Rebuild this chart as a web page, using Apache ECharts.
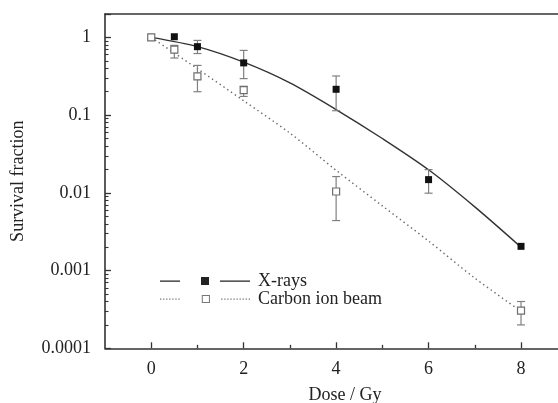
<!DOCTYPE html>
<html>
<head>
<meta charset="utf-8">
<script src="https://cdn.jsdelivr.net/npm/echarts@6/dist/echarts.min.js"></script>
<style>
html,body{margin:0;padding:0;background:#fff;}
#c{width:558px;height:403px;}
</style>
</head>
<body>
<div id="c"></div>
<script>
// ---- data ----
const xrayDose = [0.5, 1, 2, 4, 6, 8];
const xraySF   = [1.02, 0.76, 0.47, 0.215, 0.0148, 0.00205];
const xrayErrDose = [1, 2, 4, 6];
const xrayErrLo   = [0.62, 0.295, 0.114, 0.0099];
const xrayErrHi   = [0.915, 0.68, 0.319, 0.0199];

const carbonDose = [0, 0.5, 1, 2, 4, 8];
const carbonSF   = [1.0, 0.695, 0.315, 0.21, 0.0104, 0.000305];
const carbonErrDose = [0.5, 1, 2, 4, 8];
const carbonErrLo   = [0.543, 0.20, 0.174, 0.0044, 0.0002];
const carbonErrHi   = [0.79, 0.436, 0.235, 0.0162, 0.0004];

const xrayFitDose = [0, 1, 2, 3, 4, 5, 6, 7, 8];
const xrayFitSF   = [1.0, 0.76, 0.48, 0.26, 0.118, 0.05, 0.0198, 0.0066, 0.0020];
const carbonFitDose = [0, 1, 2, 3, 4, 5, 6, 7, 8];
const carbonFitSF   = [1.0, 0.395, 0.153, 0.0587, 0.0195, 0.0068, 0.0024, 0.0008, 0.0003];

const xTickValues = [0, 2, 4, 6, 8];
const xMinorTickValues = [1, 3, 5, 7];
const yTickLabels = ['0.0001', '0.001', '0.01', '0.1', '1'];
const yMinorTickValues = [];
[0.0001, 0.001, 0.01, 0.1].forEach(d => { for (let k = 2; k <= 9; k++) yMinorTickValues.push(+(d * k).toPrecision(3)); });

const seriesNames = ['X-rays', 'Carbon ion beam'];
const xTitle = 'Dose / Gy';
const yTitle = 'Survival fraction';

// ---- build ----
const zip = (a, b) => a.map((v, i) => [v, b[i]]);
const zip3 = (a, b, c) => a.map((v, i) => [v, b[i], c[i]]);

const FONT = 'Liberation Serif';
const AX = '#333';

function errRender(params, api) {
  const x = api.value(0), lo = api.value(1), hi = api.value(2);
  const a = api.coord([x, hi]), b = api.coord([x, lo]);
  const hw = 4;
  const st = { stroke: '#808080', lineWidth: 1.2 };
  return {
    type: 'group',
    children: [
      { type: 'line', shape: { x1: a[0], y1: a[1], x2: b[0], y2: b[1] }, style: st },
      { type: 'line', shape: { x1: a[0] - hw, y1: a[1], x2: a[0] + hw, y2: a[1] }, style: st },
      { type: 'line', shape: { x1: b[0] - hw, y1: b[1], x2: b[0] + hw, y2: b[1] }, style: st }
    ]
  };
}

// legend glyphs (line - marker - line)
const iconX = 'path://M0 3.5h20v1.2h-20zM41 0h8v8h-8zM60 3.5h30v1.2h-30z';
let dots = '';
for (let x = 0; x <= 18; x += 3) dots += 'M' + x + ' 3.5h1.3v1.2h-1.3z';
for (let x = 60; x <= 88.7; x += 3) dots += 'M' + x + ' 3.5h1.3v1.2h-1.3z';
const iconC = 'path://' + dots + 'M41 0h8v8h-8zM42 1v6h6v-6z';

const chart = echarts.init(document.getElementById('c'), null, { renderer: 'canvas' });
chart.setOption({
  animation: false,
  backgroundColor: '#fff',
  grid: { left: 105, right: 0, top: 14, bottom: 54.7, containLabel: false, outerBoundsMode: 'none' },
  legend: {
    left: 160, top: 272, orient: 'vertical', padding: 0,
    itemWidth: 90, itemHeight: 8, itemGap: 0,
    symbolKeepAspect: false,
    textStyle: { fontFamily: FONT, fontSize: 18, color: '#222', lineHeight: 18, padding: [0, 0, 0, 3] },
    data: [
      { name: seriesNames[0], icon: iconX, itemStyle: { color: '#222', borderWidth: 0 } },
      { name: seriesNames[1], icon: iconC, itemStyle: { color: '#777', borderWidth: 0 } }
    ]
  },
  xAxis: [
    {
      type: 'value', min: -1, max: 8.8, interval: 1, position: 'bottom',
      name: xTitle, nameLocation: 'middle', nameGap: 38,
      nameTextStyle: { fontFamily: FONT, fontSize: 18, color: '#222', padding: [0, 0, 0, 27] },
      axisLine: { show: true, onZero: false, lineStyle: { color: AX, width: 1.6 } },
      axisTick: { show: true, inside: true, length: 6, customValues: xTickValues, lineStyle: { color: AX, width: 1.3 } },
      axisLabel: { customValues: xTickValues, margin: 12, fontFamily: FONT, fontSize: 18, color: '#222' },
      splitLine: { show: false }
    },
    {
      type: 'value', min: -1, max: 8.8, interval: 1, position: 'bottom',
      axisLine: { show: false, onZero: false },
      axisTick: { show: true, inside: true, length: 3.5, customValues: xMinorTickValues, lineStyle: { color: AX, width: 1.3 } },
      axisLabel: { show: false },
      splitLine: { show: false }
    },
    {
      type: 'value', min: -1, max: 8.8, position: 'top',
      axisLine: { show: true, onZero: false, lineStyle: { color: AX, width: 1.6 } },
      axisTick: { show: false }, axisLabel: { show: false }, splitLine: { show: false }
    }
  ],
  yAxis: [
    {
      type: 'log', logBase: 10, min: 0.0001, max: 2, position: 'left',
      name: yTitle, nameLocation: 'middle', nameGap: 78, nameRotate: 90,
      nameTextStyle: { fontFamily: FONT, fontSize: 18, color: '#222' },
      axisLine: { show: true, onZero: false, lineStyle: { color: AX, width: 1.6 } },
      axisTick: { show: true, inside: true, length: 6, lineStyle: { color: AX, width: 1.3 } },
      axisLabel: {
        margin: 14, fontFamily: FONT, fontSize: 18, color: '#222',
        formatter: v => {
          const l = Math.log10(v), r = Math.round(l);
          if (Math.abs(l - r) > 1e-6) return '';
          return yTickLabels[r + 4] || '';
        }
      },
      splitLine: { show: false }, minorTick: { show: false }
    },
    {
      type: 'log', logBase: 10, min: 0.0001, max: 2, position: 'left',
      axisLine: { show: false, onZero: false },
      axisTick: { show: true, inside: true, length: 3.5, customValues: yMinorTickValues, lineStyle: { color: AX, width: 1.1 } },
      axisLabel: { show: false }, splitLine: { show: false }
    }
  ],
  series: [
    {
      name: seriesNames[0], type: 'line', smooth: 0.3, showSymbol: false, symbol: 'rect',
      data: zip(xrayFitDose, xrayFitSF),
      lineStyle: { color: '#333', width: 1.4, type: 'solid' },
      itemStyle: { color: '#222' }, z: 2
    },
    {
      name: seriesNames[1], type: 'line', smooth: 0.3, showSymbol: false, symbol: 'rect',
      data: zip(carbonFitDose, carbonFitSF),
      lineStyle: { color: '#666', width: 1.4, type: [1.4, 3.2] },
      itemStyle: { color: '#777' }, z: 2
    },
    {
      type: 'custom', renderItem: errRender, data: zip3(xrayErrDose, xrayErrLo, xrayErrHi),
      encode: { x: 0, y: [1, 2] }, z: 3, silent: true
    },
    {
      type: 'custom', renderItem: errRender, data: zip3(carbonErrDose, carbonErrLo, carbonErrHi),
      encode: { x: 0, y: [1, 2] }, z: 3, silent: true
    },
    {
      type: 'scatter', symbol: 'rect', symbolSize: 7, data: zip(xrayDose, xraySF),
      itemStyle: { color: '#111', opacity: 1 }, z: 5
    },
    {
      type: 'scatter', symbol: 'rect', symbolSize: 7, data: zip(carbonDose, carbonSF),
      itemStyle: { color: '#fff', borderColor: '#6e6e6e', borderWidth: 1.2, opacity: 1 }, z: 5
    }
  ]
});
</script>
</body>
</html>
